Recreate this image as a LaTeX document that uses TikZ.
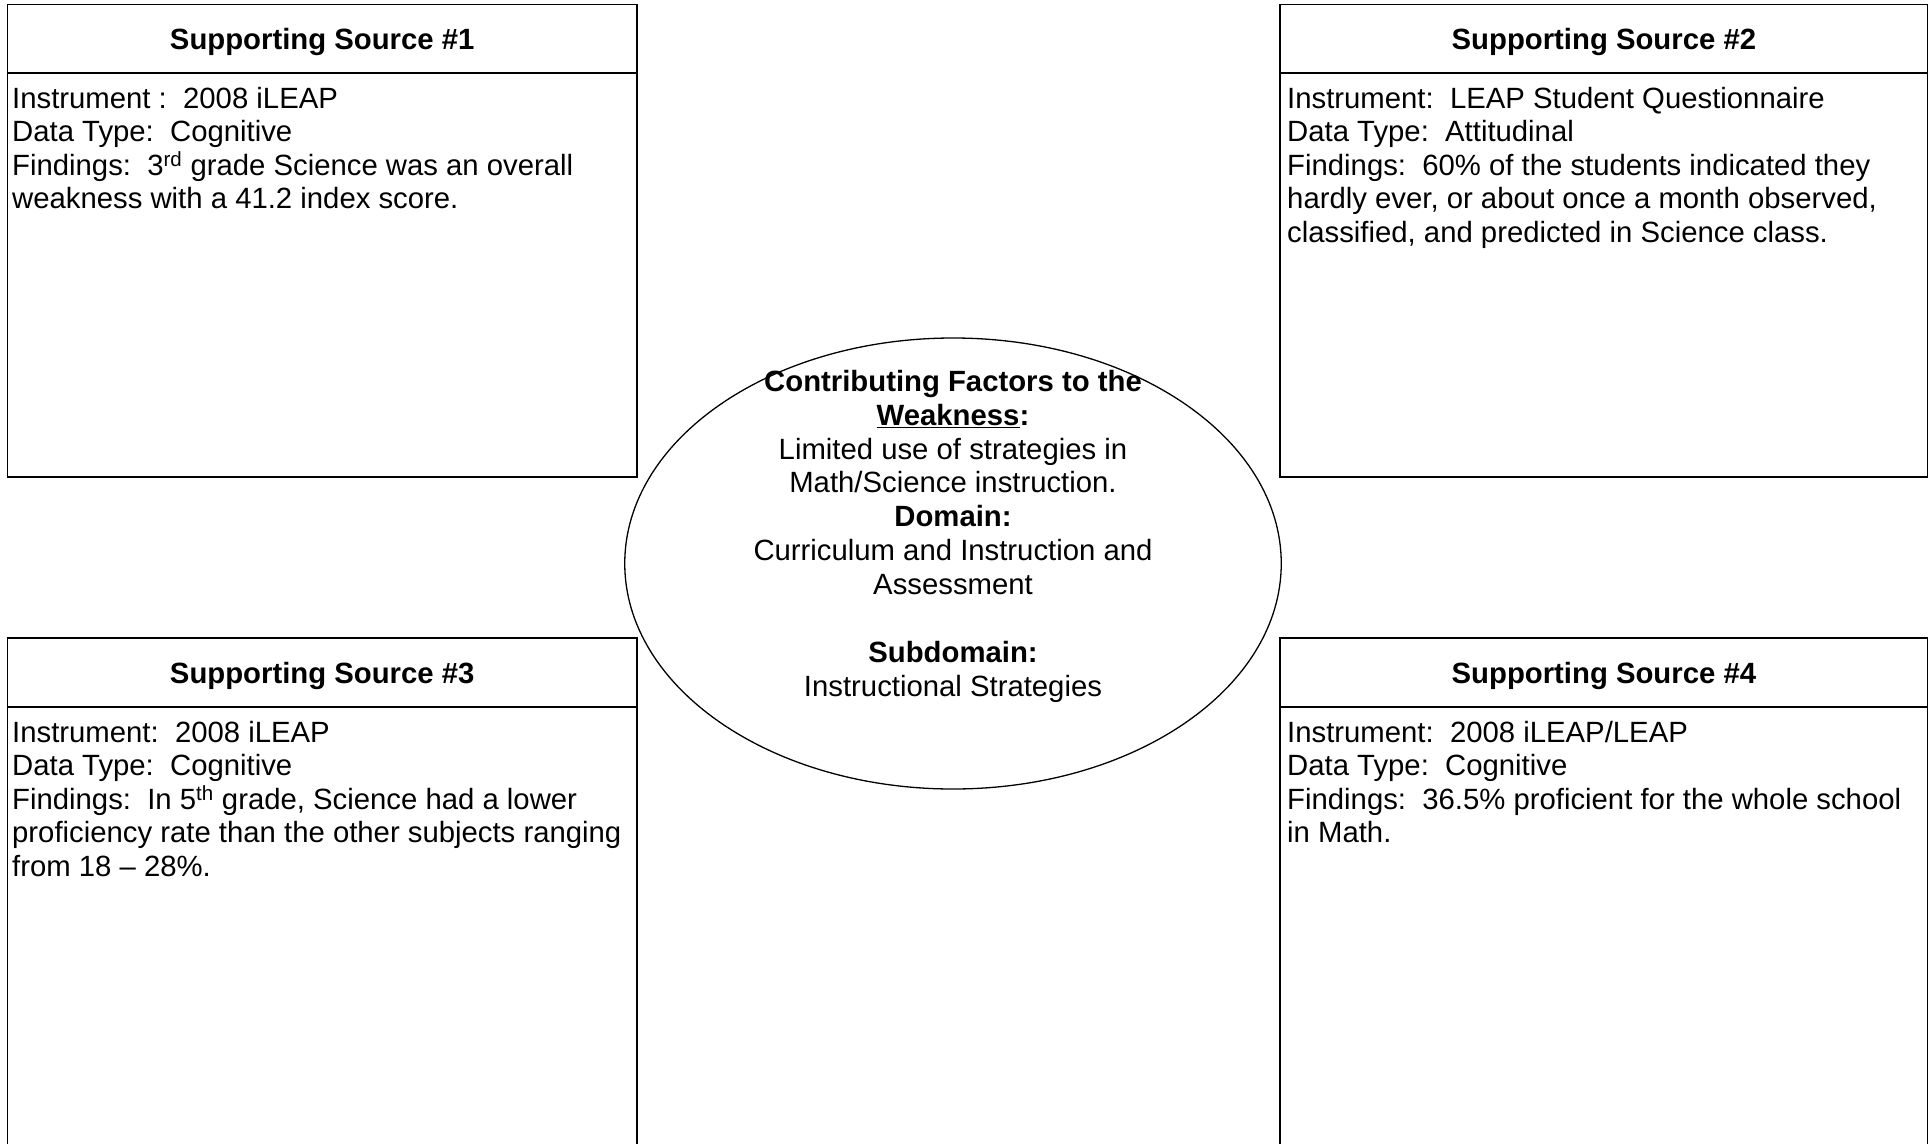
\documentclass[tikz,border=0pt]{standalone}
\usepackage{fontspec}
\setmainfont{Liberation Sans}
\usetikzlibrary{shapes.geometric}
\begin{document}
\begin{tikzpicture}[x=1pt,y=-1pt,
  boxframe/.style={draw, line width=1.2pt, rectangle, inner sep=0pt},
  sep/.style={line width=1.2pt},
  title/.style={font=\fontsize{29.3}{33.5}\selectfont\bfseries, inner sep=0pt, anchor=base},
  body/.style={font=\fontsize{29.3}{33.5}\selectfont, align=left, anchor=north west, inner sep=0pt},
  centertext/.style={font=\fontsize{29.3}{33.9}\selectfont, align=center, anchor=north, inner sep=0pt}]
\useasboundingbox (0,0) rectangle (1932,1143);
\fill[white] (0,0) rectangle (1932,1143);

% boxes
\node[boxframe, minimum width=629.6pt, minimum height=472.5pt] (b1) at (322.2,240.75) {};
\node[boxframe, minimum width=647.7pt, minimum height=472.5pt] (b2) at (1603.85,240.75) {};
\node[boxframe, minimum width=629.6pt, minimum height=530pt] (b3) at (322.2,903) {};
\node[boxframe, minimum width=647.7pt, minimum height=530pt] (b4) at (1603.85,903) {};

% header separators
\draw[sep] (b1.west |- 0,73) -- (b1.east |- 0,73);
\draw[sep] (b2.west |- 0,73) -- (b2.east |- 0,73);
\draw[sep] (b3.west |- 0,707) -- (b3.east |- 0,707);
\draw[sep] (b4.west |- 0,707) -- (b4.east |- 0,707);

% titles
\node[title] (t1) at (322.2,49) {Supporting Source \#1};
\node[title] (t2) at (1603.85,49) {Supporting Source \#2};
\node[title] (t3) at (322.2,683) {Supporting Source \#3};
\node[title] (t4) at (1603.85,683) {Supporting Source \#4};

% bodies
\node[body] (d1) at (12,84.5) {\strut Instrument :\ \ 2008 iLEAP\\
Data Type:\ \ Cognitive\\
Findings:\ \ 3\textsuperscript{rd} grade Science was an overall\\
weakness with a 41.2 index score.};
\node[body] (d2) at (1287,84.5) {\strut Instrument:\ \ LEAP Student Questionnaire\\
Data Type:\ \ Attitudinal\\
Findings:\ \ 60\% of the students indicated they\\
hardly ever, or about once a month observed,\\
classified, and predicted in Science class.};
\node[body] (d3) at (12,718.5) {\strut Instrument:\ \ 2008 iLEAP\\
Data Type:\ \ Cognitive\\
Findings:\ \ In 5\textsuperscript{th} grade, Science had a lower\\
proficiency rate than the other subjects ranging\\
from 18 \textendash{} 28\%.};
\node[body] (d4) at (1287,718.5) {\strut Instrument:\ \ 2008 iLEAP/LEAP\\
Data Type:\ \ Cognitive\\
Findings:\ \ 36.5\% proficient for the whole school\\
in Math.};

% central ellipse
\node[draw, ellipse, line width=1.3pt, fill=white, inner sep=0pt,
      minimum width=656.5pt, minimum height=451pt] (e) at (953,563.5) {};
\node[centertext] (et) at (953,367.3) {\strut\textbf{Contributing Factors to the}\\
\textbf{\underline{Weakness}:}\\
Limited use of strategies in\\
Math/Science instruction.\\
\textbf{Domain:}\\
Curriculum and Instruction and\\
Assessment\\[33.9pt]
\textbf{Subdomain:}\\
Instructional Strategies};
\end{tikzpicture}
\end{document}
